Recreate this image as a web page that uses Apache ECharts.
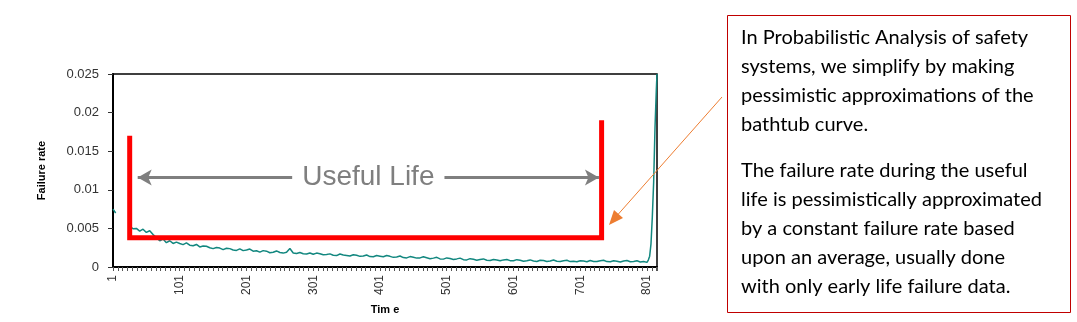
<!DOCTYPE html>
<html>
<head>
<meta charset="utf-8">
<script src="https://cdn.jsdelivr.net/npm/echarts@6/dist/echarts.min.js"></script>
<style>
    html, body { margin: 0; padding: 0; background: #fff; }
    #chart { width: 1077px; height: 322px; }
</style>
</head>
<body>
<div id="chart"></div>
<script>
    // observed failure rate (time index counted from 0, labels shown as +1)
    var times = [0, 4, 10,
        25, 30, 35, 40, 45, 50, 55, 60, 65, 70, 75, 80, 85, 90, 95,
        100, 105, 110, 115, 120, 125, 130, 135, 140, 145, 150, 155, 160, 165, 170, 175, 180, 185, 190, 195,
        200, 205, 210, 215, 220, 225, 230, 235, 240, 245, 250, 255, 260, 265, 270, 275, 280, 285, 290, 295,
        300, 305, 310, 315, 320, 325, 330, 335, 340, 345, 350, 355, 360, 365, 370, 375, 380, 385, 390, 395,
        400, 405, 410, 415, 420, 425, 430, 435, 440, 445, 450, 455, 460, 465, 470, 475, 480, 485, 490, 495,
        500, 505, 510, 515, 520, 525, 530, 535, 540, 545, 550, 555, 560, 565, 570, 575, 580, 585, 590, 595,
        600, 605, 610, 615, 620, 625, 630, 635, 640, 645, 650, 655, 660, 665, 670, 675, 680, 685, 690, 695,
        700, 705, 710, 715, 720, 725, 730, 735, 740, 745, 750, 755, 760, 765, 770, 775, 780, 785, 790, 795,
        800, 802, 804, 806, 808, 810, 812, 814, 815];
    var rates = [0.0075, 0.0070, null,
        0.0053, 0.00495, 0.0050, 0.00465, 0.0049, 0.00448, 0.0047, 0.0042, 0.0038, 0.0034, 0.00362, 0.00315, 0.0034, 0.00305, 0.00322,
        0.00305, 0.0029, 0.00312, 0.00282, 0.00275, 0.00292, 0.0026, 0.00272, 0.00268, 0.0025, 0.00238, 0.00252, 0.00245, 0.00225, 0.00242, 0.00238, 0.0022, 0.00215, 0.00235, 0.00212,
        0.0022, 0.00232, 0.00205, 0.0021, 0.00192, 0.00212, 0.00205, 0.00185, 0.00192, 0.00208, 0.00188, 0.0018, 0.00192, 0.0024, 0.00182, 0.00175, 0.00188, 0.00172, 0.00168, 0.00182,
        0.00165, 0.0018, 0.00172, 0.00158, 0.00162, 0.0017, 0.00152, 0.00148, 0.00168, 0.00155, 0.0015, 0.00142, 0.00158, 0.00152, 0.00138, 0.00142, 0.00155, 0.00135, 0.00132, 0.00148,
        0.0014, 0.00132, 0.00148, 0.00138, 0.00125, 0.0013, 0.00142, 0.00122, 0.00118, 0.00135, 0.00125, 0.00115, 0.00118, 0.00132, 0.0012, 0.00108, 0.00115, 0.00125, 0.00105, 0.00102,
        0.00118, 0.0011, 0.00098, 0.00105, 0.00115, 0.00095, 0.00092, 0.00108, 0.001, 0.00088, 0.00098, 0.00105, 0.00088, 0.00085, 0.00098, 0.0009, 0.0008, 0.00092, 0.00098, 0.00082,
        0.0008, 0.00095, 0.00088, 0.00075, 0.00082, 0.00092, 0.00078, 0.00072, 0.00088, 0.00085, 0.00072, 0.00078, 0.0009, 0.00075, 0.0007, 0.00082, 0.00088, 0.0007, 0.00075, 0.00068,
        0.00082, 0.00078, 0.00068, 0.00085, 0.00072, 0.0007, 0.00082, 0.00088, 0.0007, 0.00068, 0.0008, 0.00075, 0.00065, 0.00078, 0.00085, 0.00068, 0.0007, 0.0008, 0.00065, 0.00072,
        0.0006, 0.0009, 0.0014, 0.0030, 0.0065, 0.0110, 0.0180, 0.0230, 0.0250];

    // pessimistic constant-rate bracket drawn over the curve
    var bracketTimes = [25, 25, 732, 732];
    var bracketRates = [0.017, 0.0038, 0.0038, 0.019];

    // "Useful Life" span
    var usefulStart = 37;
    var usefulEnd = 728;
    var usefulRate = 0.0116;

    var noteLines1 = [
        'In Probabilistic Analysis of safety',
        'systems, we simplify by making',
        'pessimistic approximations of the',
        'bathtub curve.'
    ];
    var noteLines2 = [
        'The failure rate during the useful',
        'life is pessimistically approximated',
        'by a constant failure rate based',
        'upon an average, usually done',
        'with only early life failure data.'
    ];

    var curveData = times.map(function (t, i) {
        return [t, rates[i] === null ? '-' : rates[i]];
    });
    var bracketData = bracketTimes.map(function (t, i) {
        return [t, bracketRates[i]];
    });

    var chart = echarts.init(document.getElementById('chart'));
    chart.setOption({
        animation: false,
        grid: {
            left: 113,
            right: 420,
            top: 74,
            bottom: 55,
            show: true,
            borderColor: '#000',
            borderWidth: 1.5,
            backgroundColor: 'transparent'
        },
        xAxis: {
            type: 'value',
            min: 0,
            max: 815,
            interval: 100,
            name: 'Tim e',
            nameLocation: 'middle',
            nameGap: 37,
            nameTextStyle: {
                color: '#000',
                fontSize: 11,
                fontWeight: 'bold',
                fontFamily: 'Liberation Sans'
            },
            axisLine: { lineStyle: { color: '#000', width: 2 } },
            axisTick: { show: true, length: 4, lineStyle: { color: '#555' } },
            minorTick: { show: true, splitNumber: 14, length: 4, lineStyle: { color: '#555' } },
            splitLine: { show: false },
            axisLabel: {
                rotate: 90,
                margin: 8,
                color: '#333',
                fontSize: 12,
                fontFamily: 'Liberation Sans',
                showMaxLabel: false,
                formatter: function (v) {
                    return v % 100 === 0 ? String(v + 1) : '';
                }
            }
        },
        yAxis: {
            type: 'value',
            min: 0,
            max: 0.025,
            interval: 0.005,
            name: 'Failure rate',
            nameLocation: 'middle',
            nameGap: 66,
            nameTextStyle: {
                color: '#000',
                fontSize: 11,
                fontWeight: 'bold',
                fontFamily: 'Liberation Sans'
            },
            axisLine: { show: true, lineStyle: { color: '#000', width: 2 } },
            axisTick: { show: true, length: 5, lineStyle: { color: '#333' } },
            splitLine: { show: false },
            axisLabel: {
                margin: 14,
                color: '#333',
                fontSize: 13,
                fontFamily: 'Liberation Sans'
            }
        },
        series: [{
            name: 'Failure rate',
            type: 'line',
            data: curveData,
            showSymbol: false,
            connectNulls: false,
            lineStyle: { color: '#12877f', width: 1.5 },
            z: 2
        }, {
            name: 'Bracket',
            type: 'line',
            data: bracketData,
            showSymbol: false,
            lineStyle: { color: '#ff0000', width: 5, join: 'miter', cap: 'butt' },
            z: 3,
            markLine: {
                silent: true,
                symbol: ['arrow', 'arrow'],
                symbolSize: [12, 14],
                lineStyle: { color: '#7f7f7f', width: 3, type: 'solid' },
                label: {
                    show: true,
                    position: 'middle',
                    distance: 0,
                    verticalAlign: 'middle',
                    formatter: 'Useful Life',
                    color: '#7f7f7f',
                    fontSize: 28,
                    fontFamily: 'Liberation Sans',
                    backgroundColor: '#fff',
                    padding: [2, 10]
                },
                data: [[
                    { coord: [usefulStart, usefulRate] },
                    { coord: [usefulEnd, usefulRate] }
                ]]
            }
        }],
        graphic: [{
            type: 'rect',
            shape: { x: 727.5, y: 15.5, width: 343, height: 297 },
            style: { fill: '#fff', stroke: '#c00000', lineWidth: 1 },
            z: 1
        }, {
            type: 'text',
            left: 741,
            top: 23,
            style: {
                text: noteLines1.join('\n'),
                fill: '#000',
                font: '20px Lato',
                lineHeight: 29
            },
            z: 2
        }, {
            type: 'text',
            left: 741,
            top: 156,
            style: {
                text: noteLines2.join('\n'),
                fill: '#000',
                font: '20px Lato',
                lineHeight: 29
            },
            z: 2
        }, {
            type: 'line',
            shape: { x1: 722, y1: 97, x2: 614, y2: 219 },
            style: { stroke: '#ed7d31', lineWidth: 1 },
            z: 5
        }, {
            type: 'polygon',
            shape: { points: [[609, 225], [623, 218], [614, 210]] },
            style: { fill: '#ed7d31' },
            z: 5
        }]
    });
</script>
</body>
</html>
